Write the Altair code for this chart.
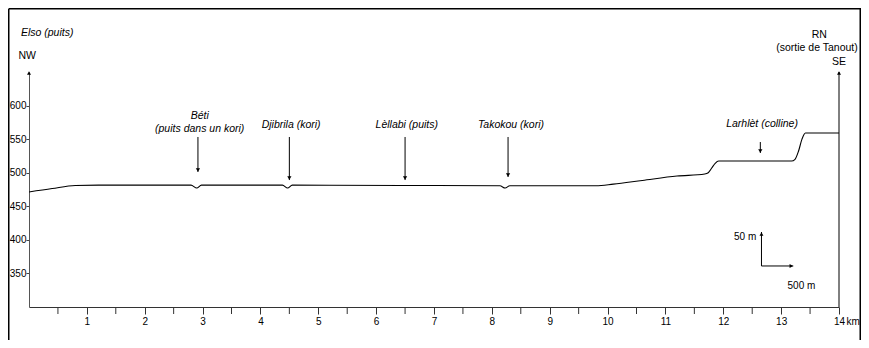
import altair as alt
import pandas as pd

# ---- data ----
profile_km = [0.0, 0.4, 0.8, 1.2, 2.80, 2.90, 2.98, 4.38, 4.47, 4.55, 6.46,
              8.14, 8.23, 8.31, 9.8, 10.1, 10.6, 11.2, 11.68, 11.74, 11.80,
              11.86, 11.92, 13.18, 13.24, 13.30, 13.36, 13.42, 14.0]
profile_m = [471.3, 476.5, 481.0, 481.5, 481.5, 477.2, 481.5, 481.5, 477.2, 481.5, 481.0,
             480.5, 477.2, 480.5, 480.5, 483.0, 488.5, 495.0, 498.1, 500.0, 507.0,
             514.0, 517.4, 517.4, 520.0, 532.0, 550.0, 559.1, 559.1]

places = ["Béti", "Djibrila", "Lèllabi", "Takokou", "Larhlèt"]
place_km = [2.92, 4.50, 6.50, 8.28, 12.64]
arrow_top = [553.2, 553.2, 553.2, 553.2, 545.7]
arrow_tip = [501.1, 489.1, 489.1, 493.6, 529.4]

label_text = ["Béti", "(puits dans un kori)", "Djibrila (kori)", "Lèllabi (puits)",
              "Takokou (kori)", "Larhlèt (colline)"]
label_km = [2.95, 2.95, 4.53, 6.53, 8.33, 12.67]
label_m = [580.0, 560.6, 566.6, 566.6, 566.6, 568.1]

x_major_ticks = list(range(1, 15))
x_minor_ticks = [k + 0.5 for k in range(0, 14)]
y_tick_values = [350, 400, 450, 500, 550, 600]

FONT = "Liberation Sans"

prof_df = pd.DataFrame({"km": profile_km, "m": profile_m})
arr_df = pd.DataFrame({"place": places, "km": place_km, "top": arrow_top, "tip": arrow_tip})
lab_df = pd.DataFrame({"t": label_text, "km": label_km, "m": label_m})
minor_df = pd.DataFrame({"km": x_minor_ticks})

xs = alt.Scale(domain=[0, 14], nice=False, zero=False)
ys = alt.Scale(domain=[300, 650], nice=False, zero=False)


def XN(field):
    return alt.X(field, scale=xs)


def YN(field):
    return alt.Y(field, scale=ys)


X = alt.X("km:Q", scale=xs,
          axis=alt.Axis(values=x_major_ticks, format="d", title="", grid=False,
                        tickSize=7, tickColor="#333", domainColor="#333",
                        labelFont=FONT, labelFontSize=10, labelColor="black",
                        labelPadding=2, labelFlush=False, labelOverlap=False))
Y = alt.Y("m:Q", scale=ys,
          axis=alt.Axis(values=y_tick_values, format="d", title="", grid=False,
                        tickSize=3, tickColor="#444", domainColor="#555",
                        labelFont=FONT, labelFontSize=10, labelColor="black",
                        labelPadding=0))

line = alt.Chart(prof_df).mark_line(color="black", strokeWidth=1.1,
                                     interpolate="monotone").encode(x=X, y=Y)

# half-km minor ticks
minor = alt.Chart(minor_df).mark_rule(color="#333", strokeWidth=1).encode(
    x=XN("km:Q"), y=alt.value(235), y2=alt.value(242))

# right vertical axis (SE end)
edge_df = pd.DataFrame({"km": [0.0, 14.0], "lo": [300, 300], "hi": [650, 650]})
right_rule = alt.Chart(edge_df.iloc[[1]]).mark_rule(color="black", strokeWidth=1).encode(
    x=XN("km:Q"), y=YN("lo:Q"), y2="hi:Q")
edge_heads = alt.Chart(edge_df).mark_point(shape="triangle-up", filled=True, size=16,
                                           color="black", opacity=1, yOffset=1).encode(
    x=XN("km:Q"), y=YN("hi:Q"))

# place arrows
arr_rules = alt.Chart(arr_df).mark_rule(color="black", strokeWidth=1).encode(
    x=XN("km:Q"), y=YN("top:Q"), y2="tip:Q")
arr_heads = alt.Chart(arr_df).mark_point(shape="triangle-down", filled=True, size=18,
                                         color="black", opacity=1, yOffset=-2).encode(
    x=XN("km:Q"), y=YN("tip:Q"))
labels = alt.Chart(lab_df).mark_text(font=FONT, fontSize=10.5, fontStyle="italic",
                                     align="center", baseline="alphabetic",
                                     color="black").encode(
    x=XN("km:Q"), y=YN("m:Q"), text="t:N")

# top end labels
end_left = pd.DataFrame({"t": ["Elso (puits)"], "km": [-0.14], "m": [708.1]})
end_left2 = pd.DataFrame({"t": ["NW"], "km": [-0.03], "m": [673.8]})
end_right = pd.DataFrame({"t": ["RN", "(sortie de Tanout)", "SE"],
                          "km": [13.66, 13.62, 14.0], "m": [705.1, 685.7, 664.9]})
t_elso = alt.Chart(end_left).mark_text(font=FONT, fontSize=10.5, fontStyle="italic",
                                       align="left", color="black").encode(
    x=XN("km:Q"), y=YN("m:Q"), text="t:N")
t_nw = alt.Chart(end_left2).mark_text(font=FONT, fontSize=10.5, align="center",
                                      color="black").encode(
    x=XN("km:Q"), y=YN("m:Q"), text="t:N")
t_right = alt.Chart(end_right).mark_text(font=FONT, fontSize=10.5, align="center",
                                         color="black").encode(
    x=XN("km:Q"), y=YN("m:Q"), text="t:N")

# scale indicator
sc_v = pd.DataFrame({"km": [12.66], "a": [361.1], "b": [411.7]})
sc_h = pd.DataFrame({"a": [12.66], "b": [13.21], "m": [361.1]})
sc_v_rule = alt.Chart(sc_v).mark_rule(color="black", strokeWidth=1).encode(
    x=XN("km:Q"), y=YN("a:Q"), y2="b:Q")
sc_v_head = alt.Chart(sc_v).mark_point(shape="triangle-up", filled=True, size=16,
                                       color="black", opacity=1, yOffset=2).encode(
    x=XN("km:Q"), y=YN("b:Q"))
sc_h_rule = alt.Chart(sc_h).mark_rule(color="black", strokeWidth=1).encode(
    x=XN("a:Q"), x2="b:Q", y=YN("m:Q"))
sc_h_head = alt.Chart(sc_h).mark_point(shape="triangle-right", filled=True, size=16,
                                       color="black", opacity=1, xOffset=-2).encode(
    x=XN("b:Q"), y=YN("m:Q"))
sc_txt = pd.DataFrame({"t": ["50 m", "500 m"], "km": [12.57, 13.11], "m": [404.3, 331.3]})
sc_t1 = alt.Chart(sc_txt.iloc[[0]]).mark_text(font=FONT, fontSize=10, align="right",
                                              color="black").encode(
    x=XN("km:Q"), y=YN("m:Q"), text="t:N")
sc_t2 = alt.Chart(sc_txt.iloc[[1]]).mark_text(font=FONT, fontSize=10, align="left",
                                              color="black").encode(
    x=XN("km:Q"), y=YN("m:Q"), text="t:N")

# unit "km" after the last tick label
km_df = pd.DataFrame({"t": ["km"], "km": [14.0]})
km_txt = alt.Chart(km_df).mark_text(font=FONT, fontSize=10, align="left", baseline="top",
                                    dx=7.5, color="black").encode(
    x=XN("km:Q"), y=alt.value(244.5), text="t:N")

# figure frame
one = pd.DataFrame({"a": [0]})
frame_l = alt.Chart(one).mark_rule(color="black", strokeWidth=1.5).encode(
    x=alt.value(-20.25), y=alt.value(-63.25), y2=alt.value(300))
frame_t = alt.Chart(one).mark_rule(color="black", strokeWidth=1.5).encode(
    x=alt.value(-20.25), x2=alt.value(832), y=alt.value(-63.25))
frame_r = alt.Chart(one).mark_rule(color="black", strokeWidth=1.5).encode(
    x=alt.value(831.25), y=alt.value(-63.25), y2=alt.value(300))

chart = alt.layer(
    line, minor, right_rule, edge_heads, arr_rules, arr_heads, labels,
    t_elso, t_nw, t_right, sc_v_rule, sc_v_head, sc_h_rule, sc_h_head,
    sc_t1, sc_t2, km_txt, frame_l, frame_t, frame_r
).properties(
    width=810, height=235,
    autosize=alt.AutoSizeParams(type="none"),
    padding={"left": 21, "top": 64, "right": 22, "bottom": 33},
    background="white",
).configure_view(strokeWidth=0)

chart.save("out.html", embed_options={"renderer": "svg", "actions": False})
